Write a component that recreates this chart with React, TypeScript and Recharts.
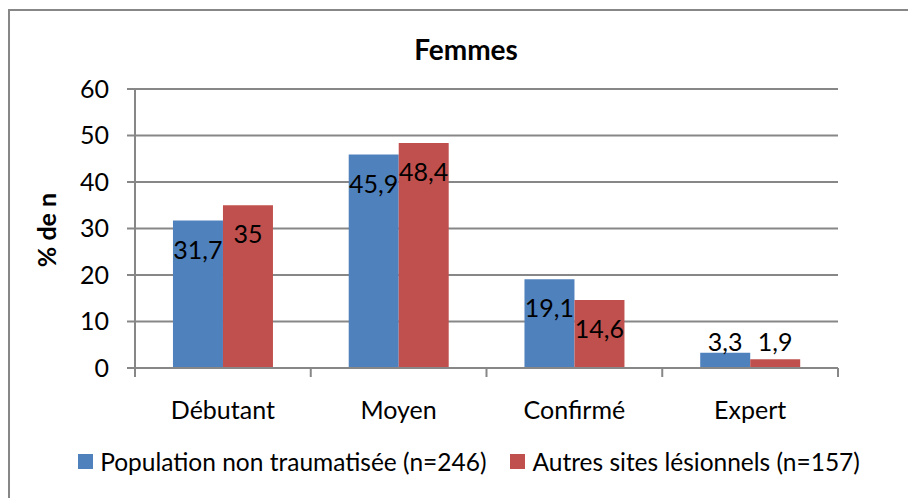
import React from 'react';
import { BarChart, Bar, XAxis, YAxis, CartesianGrid, Legend, LabelList } from 'recharts';

const categories = ['Débutant', 'Moyen', 'Confirmé', 'Expert'];
const populationNonTraumatisee = [31.7, 45.9, 19.1, 3.3];
const autresSitesLesionnels = [35, 48.4, 14.6, 1.9];
const yTicks = [0, 10, 20, 30, 40, 50, 60];
const seriesNames = ['Population non traumatisée (n=246)', 'Autres sites lésionnels (n=157)'];
const seriesColors = ['#4F81BD', '#C0504D'];
const chartTitle = 'Femmes';
const yAxisTitle = '% de n';

const data = categories.map((c, i) => ({
  name: c,
  a: populationNonTraumatisee[i],
  b: autresSitesLesionnels[i],
}));

const FONT = 'Lato, "Open Sans", sans-serif';
const GRID = '#878787';
const FS = 25;

const fmt = (v: number) => String(v).replace('.', ',');

const renderLabel = (props: any) => {
  const { x, y, width, height, value } = props;
  const cx = Number(x) + Number(width) / 2;
  const h = Number(height);
  const baseline = h > 40 ? Number(y) + 38 : Number(y) + h - 17;
  return (
    <text x={cx} y={baseline} textAnchor="middle" fontFamily={FONT} fontSize={FS} fill="#000">
      {fmt(value)}
    </text>
  );
};

const XTick = (props: any) => {
  const { x, y, payload, index } = props;
  const half = payload && payload.offset ? payload.offset : 88;
  return (
    <g>
      <line x1={x - half} x2={x - half} y1={y} y2={y + 9} stroke={GRID} strokeWidth={2} />
      {index === categories.length - 1 && (
        <line x1={x + half} x2={x + half} y1={y} y2={y + 9} stroke={GRID} strokeWidth={2} />
      )}
      <text x={x} y={y + 51} textAnchor="middle" fontFamily={FONT} fontSize={FS} fill="#000">
        {payload.value}
      </text>
    </g>
  );
};

const LegendContent = () => (
  <div
    style={{
      width: 908,
      display: 'flex',
      justifyContent: 'center',
      alignItems: 'center',
      paddingLeft: 30,
      boxSizing: 'border-box',
      fontFamily: FONT,
      fontSize: 24.5,
      color: '#000',
      whiteSpace: 'nowrap',
    }}
  >
    {seriesNames.map((n, i) => (
      <div key={n} style={{ display: 'flex', alignItems: 'center', marginLeft: i === 0 ? 0 : 24 }}>
        <span style={{ display: 'inline-block', width: 15, height: 15, background: seriesColors[i], marginRight: 7 }} />
        <span>{n}</span>
      </div>
    ))}
  </div>
);

export default function App() {
  return (
    <div style={{ position: 'fixed', left: 0, top: 0, width: 908, height: 498, background: '#fff', overflow: 'hidden' }}>
      <div
        style={{
          position: 'absolute',
          left: 8,
          top: 9,
          width: 920,
          height: 510,
          border: `2px solid ${GRID}`,
          boxSizing: 'border-box',
        }}
      />
      <div style={{ position: 'absolute', left: 0, top: 0 }}>
        <BarChart
          width={908}
          height={498}
          data={data}
          margin={{ top: 89, right: 70, bottom: 70, left: 75 }}
          barCategoryGap="21.6%"
          barGap={0}
        >
          <CartesianGrid vertical={false} stroke={GRID} strokeWidth={2} />
          <XAxis
            dataKey="name"
            height={60}
            interval={0}
            tickLine={false}
            tickSize={0}
            tickMargin={0}
            axisLine={{ stroke: GRID, strokeWidth: 2 }}
            tick={<XTick />}
          />
          <YAxis
            width={60}
            domain={[0, 60]}
            ticks={yTicks}
            interval={0}
            tickSize={8}
            tickMargin={18}
            tickLine={{ stroke: GRID, strokeWidth: 2 }}
            axisLine={{ stroke: GRID, strokeWidth: 2 }}
            tick={{ fontFamily: FONT, fontSize: FS, fill: '#000' }}
          />
          <Legend
            layout="horizontal"
            verticalAlign="middle"
            align="center"
            wrapperStyle={{ top: 447, left: 0, width: 908 }}
            content={<LegendContent />}
          />
          <Bar dataKey="a" name={seriesNames[0]} fill={seriesColors[0]} isAnimationActive={false}>
            <LabelList dataKey="a" content={renderLabel} />
          </Bar>
          <Bar dataKey="b" name={seriesNames[1]} fill={seriesColors[1]} isAnimationActive={false}>
            <LabelList dataKey="b" content={renderLabel} />
          </Bar>
        </BarChart>
      </div>
      <svg width={908} height={498} style={{ position: 'absolute', left: 0, top: 0, pointerEvents: 'none' }}>
        <text x={466} y={60} textAnchor="middle" fontFamily={FONT} fontWeight="bold" fontSize={28} fill="#000">
          {chartTitle}
        </text>
        <text
          x={56}
          y={230}
          transform="rotate(-90 56 230)"
          textAnchor="middle"
          fontFamily={FONT}
          fontWeight="bold"
          fontSize={25}
          fill="#000"
        >
          {yAxisTitle}
        </text>
      </svg>
    </div>
  );
}
